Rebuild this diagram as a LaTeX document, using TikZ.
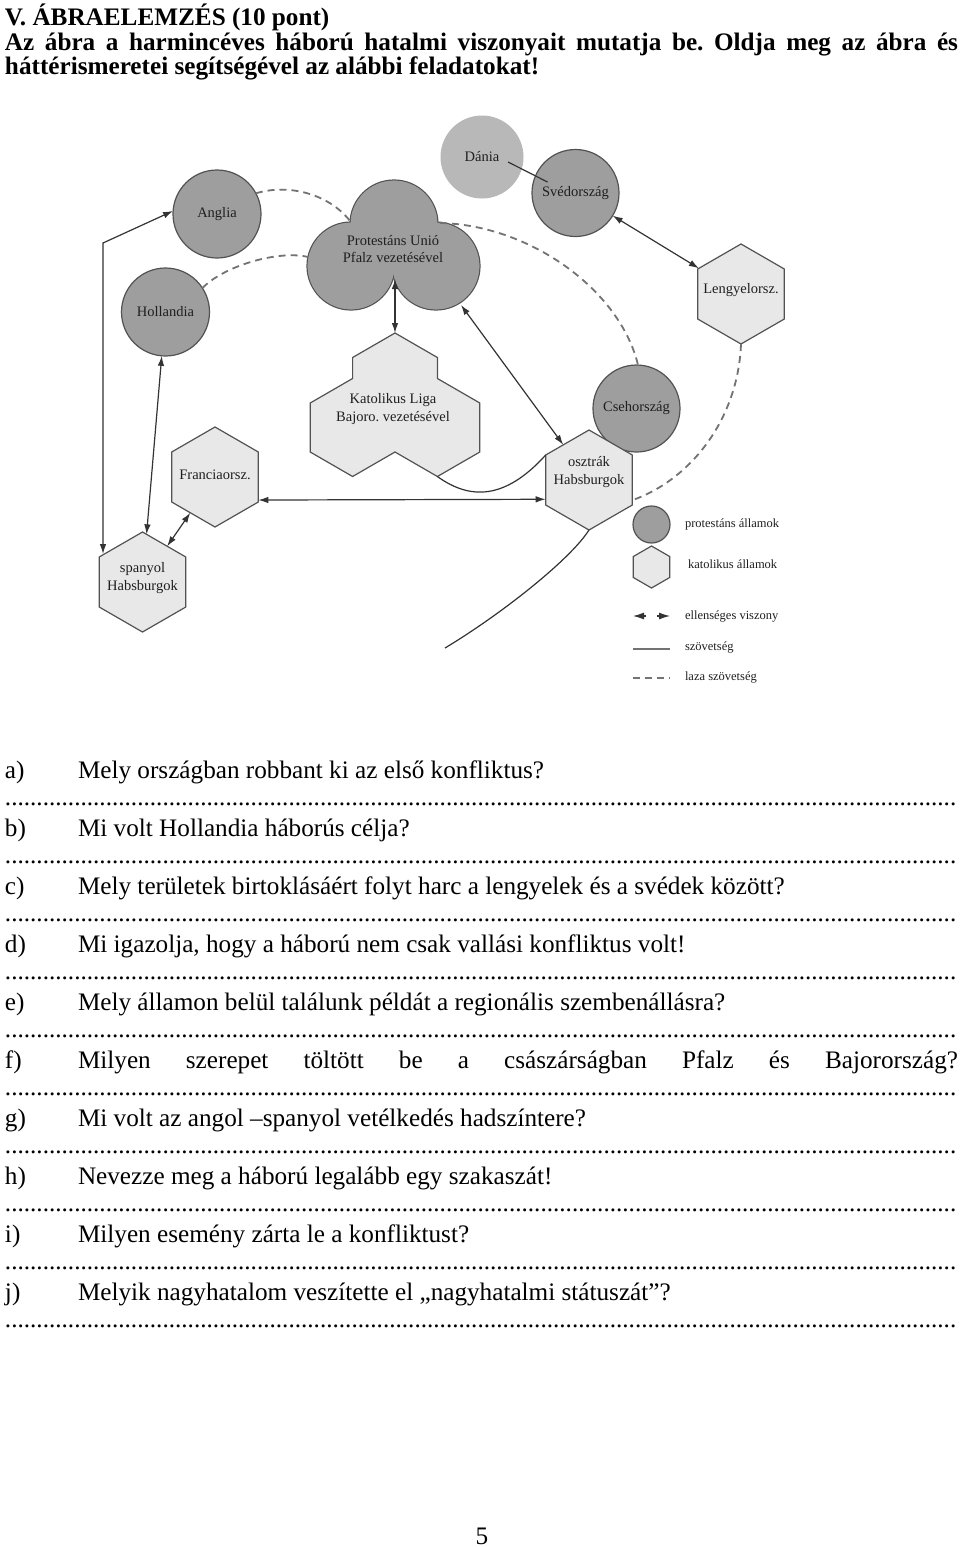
\documentclass[tikz,border=0pt]{standalone}
\usepackage{fontspec}
\setmainfont{Liberation Serif}
\usetikzlibrary{arrows.meta,shapes.geometric,calc}
\definecolor{protgray}{gray}{0.62}
\definecolor{daniagray}{gray}{0.72}
\definecolor{katgray}{gray}{0.91}
\definecolor{edgec}{gray}{0.32}
\definecolor{connc}{gray}{0.2}
\definecolor{dashc}{gray}{0.45}
\definecolor{txtc}{gray}{0.12}
\newcommand{\dotline}{\hbox to 953pt{\leaders\hbox to 6.3pt{\hss.\hss}\hfill}}
\frenchspacing
\begin{document}
\begin{tikzpicture}[x=1pt,y=-1pt,
  every node/.style={inner sep=0pt,outer sep=0pt},
  lbl/.style={font=\fontsize{14.5}{17.5}\selectfont, align=center, text=txtc},
  legtxt/.style={font=\fontsize{12.5}{15}\selectfont, text=txtc, anchor=west},
  protc/.style={circle, fill=protgray, draw=edgec, line width=1.2pt, lbl},
  hexk/.style={regular polygon, regular polygon sides=6, shape border rotate=30,
     fill=katgray, draw=edgec, line width=1.2pt, minimum size=100pt, lbl},
  conn/.style={draw=connc, line width=1.2pt},
  hostile/.style={conn, {Latex[length=10pt,width=6.5pt]}-{Latex[length=10pt,width=6.5pt]}},
  loose/.style={draw=dashc, line width=1.8pt, dash pattern=on 7pt off 5pt},
  qtxt/.style={font=\fontsize{25.2}{30}\selectfont, anchor=base west},
  htxt/.style={font=\fontsize{25.2}{29}\selectfont\bfseries, anchor=base west}
]
\useasboundingbox (0,0) rectangle (960,1547);
\fill[white] (0,0) rectangle (960,1547);

% ---------- header ----------
\node[htxt] (h1) at (5,25) {V. ÁBRAELEMZÉS (10 pont)};
\node[htxt] (h2) at (5,50) {\makebox[953pt][s]{Az ábra a harmincéves háború hatalmi viszonyait mutatja be. Oldja meg az ábra és}};
\node[htxt] (h3) at (5,74) {háttérismeretei segítségével az alábbi feladatokat!};

% ---------- Protestáns Unió (trefoil) ----------
\foreach \c in {(394,224),(351,266),(436,266)}
  \filldraw[fill=protgray,draw=edgec,line width=1.2pt] \c circle[radius=44pt];
\foreach \c in {(394,224),(351,266),(436,266)}
  \fill[protgray] \c circle[radius=43.3pt];
\node[lbl] (prot) at (393,249) {Protestáns Unió\\Pfalz vezetésével};
\coordinate (pnotch) at (395,279);
\coordinate (pright) at (461,305);
\coordinate (plnotch) at (350,221);
\coordinate (pleft) at (308,257);
\coordinate (prnotch) at (440,223);

% ---------- Katolikus Liga (three hexagons) ----------
\filldraw[fill=katgray,draw=edgec,line width=1.2pt]
  (395,333) -- (437.4,357.5) -- (437.4,378.5) -- (479.8,403) -- (479.8,452)
  -- (437.4,476.5) -- (395,452) -- (352.6,476.5) -- (310.2,452) -- (310.2,403)
  -- (352.6,378.5) -- (352.6,357.5) -- cycle;
\node[lbl] (kat) at (393,409) {Katolikus Liga\\Bajoro. vezetésével};
\coordinate (ktop) at (395,333);
\coordinate (kbr) at (437.4,476.5);

% ---------- states ----------
\node[protc, fill=daniagray, draw=none, minimum size=83pt] (dania) at (482,157) {Dánia};
\node[protc, minimum size=87pt] (sved) at (575.5,193) {Svédország};
\node[protc, minimum size=88pt] (angl) at (217,214) {Anglia};
\node[protc, minimum size=88pt] (holl) at (165.5,312) {Hollandia};
\node[protc, minimum size=87pt] (cseh) at (636.5,408.5) {Csehország};

\node[hexk] (leng) at (741,294) {};
\node[lbl] (lenglbl) at (741,290) {Lengyelorsz.};
\node[hexk] (fran) at (215,477) {};
\node[lbl] (franlbl) at (215,475) {Franciaorsz.};
\node[hexk] (span) at (142.5,582) {};
\node[lbl] (spanlbl) at (142.5,578) {spanyol\\Habsburgok};
\node[hexk] (oszt) at (589,480) {};
\node[lbl] (osztlbl) at (589,472) {osztrák\\Habsburgok};

% ---------- connectors ----------
\coordinate (lc) at (103,243);
\coordinate (lcb) at (103,554);
\draw[hostile] (angl.176) -- (lc) -- (lcb);
\draw[hostile] (holl) -- (span);
\draw[hostile] (fran) -- (span);
\draw[hostile] (fran.-28) -- (oszt.204);
\draw[hostile] (pnotch) -- (ktop);
\draw[hostile] (pright) -- (oszt);
\draw[hostile] (sved) -- (leng);
\draw[conn] ([shift={(26,5)}]dania.center) -- ([shift={(-28,-11)}]sved.center);
\draw[conn] (kbr) .. controls (470,500) and (505,500) .. (oszt.150);
\coordinate (lowend) at (445,648);
\draw[conn] (oszt.-90) .. controls (570,560) and (500,615) .. (lowend);

\draw[loose] (angl.28) .. controls (290,183) and (330,195) .. (plnotch);
\draw[loose] (holl.33) .. controls (225,265) and (280,250) .. (pleft);
\draw[loose] (prnotch) .. controls (530,225) and (620,290) .. (cseh.88);
\draw[loose] (leng.-90) .. controls (738,420) and (690,480) .. (oszt.-25);

% ---------- legend ----------
\node[protc, minimum size=37pt] (lgp) at (651.5,524.5) {};
\node[legtxt] (lgpt) at (685,524) {protestáns államok};
\node[hexk, minimum size=42pt] (lgk) at (651.5,567) {};
\node[legtxt] (lgkt) at (688,564) {katolikus államok};
\coordinate (la1) at (646,616);
\coordinate (la2) at (633,616);
\coordinate (la3) at (657,616);
\coordinate (la4) at (670,616);
\draw[conn, -{Latex[length=11pt,width=7pt]}] (la1) -- (la2);
\draw[conn, -{Latex[length=11pt,width=7pt]}] (la3) -- (la4);
\node[legtxt] (lght) at (685,616) {ellenséges viszony};
\coordinate (ls1) at (633,649);
\coordinate (ls2) at (670,649);
\draw[draw=dashc, line width=1.8pt] (ls1) -- (ls2);
\node[legtxt] (lgst) at (685,647) {szövetség};
\coordinate (ld1) at (633,678);
\coordinate (ld2) at (670,678);
\draw[loose] (ld1) -- (ld2);
\node[legtxt] (lgdt) at (685,677) {laza szövetség};

% ---------- questions ----------
\foreach \l/\t [count=\i from 0] in {
  a)/{Mely országban robbant ki az első konfliktus?},
  b)/{Mi volt Hollandia háborús célja?},
  c)/{Mely területek birtoklásáért folyt harc a lengyelek és a svédek között?},
  d)/{Mi igazolja, hogy a háború nem csak vallási konfliktus volt!},
  e)/{Mely államon belül találunk példát a regionális szembenállásra?},
  f)/{\makebox[880pt][s]{Milyen szerepet töltött be a császárságban Pfalz és Bajorország?}},
  g)/{Mi volt az angol –spanyol vetélkedés hadszíntere?},
  h)/{Nevezze meg a háború legalább egy szakaszát!},
  i)/{Milyen esemény zárta le a konfliktust?},
  j)/{Melyik nagyhatalom veszítette el „nagyhatalmi státuszát”?}}
{
  \node[qtxt] (ql\i) at (5,{778+58.1*\i}) {\l};
  \node[qtxt] (qt\i) at (78,{778+58.1*\i}) {\t};
  \node[qtxt] (qd\i) at (5,{805+58.1*\i}) {\dotline};
}

\node[qtxt, anchor=base] (pnum) at (482,1544) {5};
\end{tikzpicture}
\end{document}
